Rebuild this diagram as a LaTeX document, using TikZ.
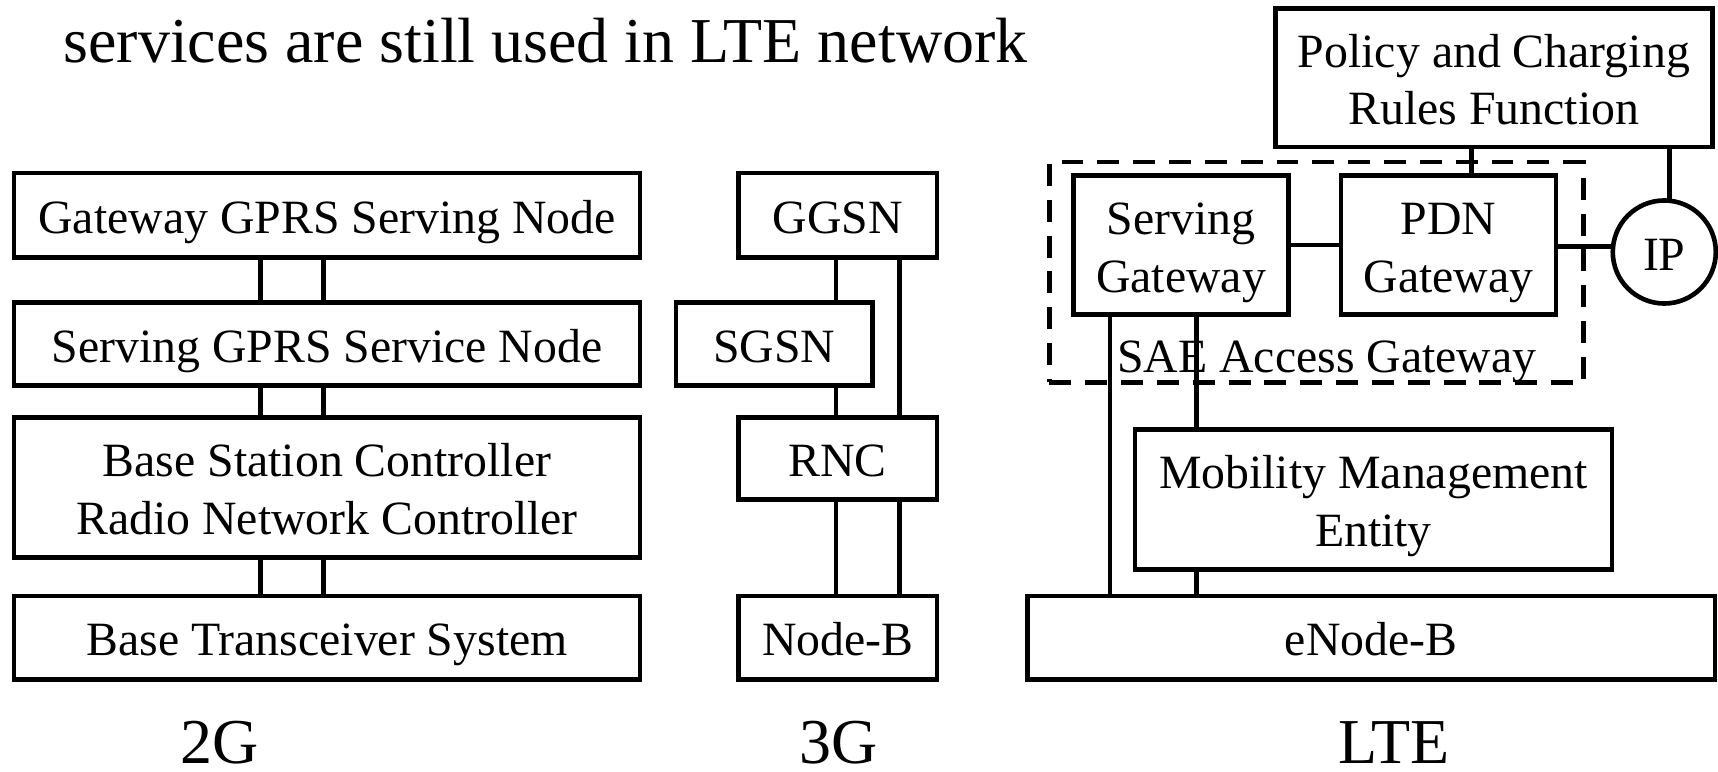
\documentclass[tikz,border=0pt]{standalone}
\usepackage{fontspec}
\setmainfont{Liberation Serif}
\newcommand\onel[1]{\raisebox{-0.165cm}[0pt][0pt]{#1}}
\newcommand\twol[2]{\raisebox{-0.43cm}[0pt][0pt]{\begin{tabular}[b]{@{}c@{}}#1\\#2\end{tabular}}}
\begin{document}
\begin{tikzpicture}[x=0.01cm,y=-0.01cm,
  every node/.style={inner sep=0pt,outer sep=0pt},
  blk/.style={draw,line width=1.2pt,rectangle,align=center,
    font=\fontsize{12.4}{15}\selectfont},
  big/.style={font=\fontsize{16.6}{19}\selectfont},
  gen/.style={big,anchor=base,text depth=0pt},
  conn/.style={line width=1.2pt},
  grp/.style={draw,line width=1.2pt,dash pattern=on 5.7pt off 3.6pt,rectangle}]
\useasboundingbox (0,0) rectangle (1568,704);

% title
\node[big,anchor=base west] (title) at (58,56.6) {services are still used in LTE network};

% 2G
\node[blk,minimum width=5.71cm,minimum height=0.77cm] (ggsn2) at (298.5,196.5) {\onel{Gateway GPRS Serving Node}};
\node[blk,minimum width=5.71cm,minimum height=0.76cm] (sgsn2) at (298.5,314) {\onel{Serving GPRS Service Node}};
\node[blk,minimum width=5.71cm,minimum height=1.28cm] (bsc) at (298.5,445) {\twol{Base Station Controller}{Radio Network Controller}};
\node[blk,minimum width=5.71cm,minimum height=0.76cm] (bts) at (298.5,582) {\onel{Base Transceiver System}};
\coordinate (a1) at (238,0);
\coordinate (a2) at (295,0);
\foreach \u/\l in {ggsn2/sgsn2,sgsn2/bsc,bsc/bts}{
  \draw[conn] (\u.south -| a1) -- (\l.north -| a1);
  \draw[conn] (\u.south -| a2) -- (\l.north -| a2);
}
\node[gen] (l2g) at (200,697) {2G};

% 3G
\node[blk,minimum width=1.81cm,minimum height=0.77cm] (ggsn3) at (764.5,196.5) {\onel{GGSN}};
\node[blk,minimum width=1.79cm,minimum height=0.76cm] (sgsn3) at (706.5,314) {\onel{SGSN}};
\node[blk,minimum width=1.81cm,minimum height=0.75cm] (rnc) at (764.5,418.5) {\onel{RNC}};
\node[blk,minimum width=1.81cm,minimum height=0.76cm] (nodeb) at (764.5,582) {\onel{Node-B}};
\coordinate (b1) at (763,0);
\coordinate (b2) at (821,0);
\draw[conn] (ggsn3.south -| b1) -- (sgsn3.north -| b1);
\draw[conn] (sgsn3.south -| b1) -- (rnc.north -| b1);
\draw[conn] (ggsn3.south -| b2) -- (rnc.north -| b2);
\draw[conn] (rnc.south -| b1) -- (nodeb.north -| b1);
\draw[conn] (rnc.south -| b2) -- (nodeb.north -| b2);
\node[gen] (l3g) at (765,697) {3G};

% LTE
\node[blk,minimum width=3.99cm,minimum height=1.26cm] (pcrf) at (1363.5,71) {\twol{Policy and Charging}{Rules Function}};
\node[grp,minimum width=4.87cm,minimum height=2.01cm] (sae) at (1201.5,248.5) {};
\node[font=\fontsize{12.4}{15}\selectfont,anchor=base] (saelbl) at (1211,340) {SAE Access Gateway};
\node[blk,minimum width=1.96cm,minimum height=1.27cm] (sgw) at (1078,223.5) {\twol{Serving}{Gateway}};
\node[blk,minimum width=1.96cm,minimum height=1.27cm] (pdn) at (1322,223.5) {\twol{PDN}{Gateway}};
\node[blk,circle,minimum size=0.94cm] (ip) at (1519,230) {\onel{IP}};
\node[blk,minimum width=4.35cm,minimum height=1.28cm] (mme) at (1253.5,456) {\twol{Mobility Management}{Entity}};
\node[blk,minimum width=6.27cm,minimum height=0.76cm] (enb) at (1251.5,582) {\onel{eNode-B}};
\coordinate (c1) at (1013,0);
\coordinate (c2) at (1092,0);
\coordinate (c3) at (1343,0);
\draw[conn] (sgw.east) -- (pdn.west);
\draw[conn] (ip.174) -- (ip.174 -| pdn.east);
\draw[conn] (pcrf.south -| c3) -- (pdn.north -| c3);
\draw[conn] (ip.84) -- (ip.84 |- pcrf.south);
\draw[conn] (sgw.south -| c1) -- (enb.north -| c1);
\draw[conn] (sgw.south -| c2) -- (mme.north -| c2);
\draw[conn] (mme.south -| c2) -- (enb.north -| c2);
\node[gen] (llte) at (1272,697) {LTE};
\end{tikzpicture}
\end{document}
